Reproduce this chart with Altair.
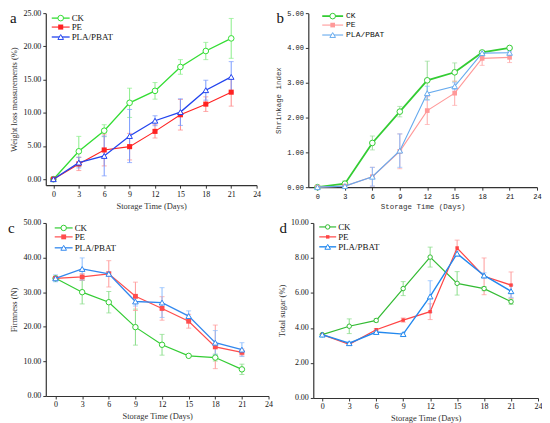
import altair as alt
import pandas as pd

days = [0, 3, 6, 9, 12, 15, 18, 21]
x_ticks = [0, 3, 6, 9, 12, 15, 18, 21, 24]
series_names = ["CK", "PE", "PLA/PBAT"]

# (a) Weight loss
wl_ck = [0, 4.2, 7.3, 11.5, 13.3, 16.9, 19.3, 21.2]
wl_ck_err = [0, 2.25, 0.9, 2.2, 1.25, 1.1, 1.3, 3.0]
wl_pe = [0, 2.3, 4.4, 4.9, 7.2, 9.7, 11.3, 13.1]
wl_pe_err = [0, 1.0, 2.4, 2.0, 1.0, 2.3, 1.1, 2.1]
wl_pla = [0, 2.5, 3.5, 6.5, 8.8, 10.1, 13.4, 15.4]
wl_pla_err = [0, 0.8, 3.0, 4.0, 0.75, 2.0, 1.5, 2.3]

# (b) Shrinkage index
sh_ck = [0, 0.1, 1.27, 2.17, 3.07, 3.3, 3.87, 4.0]
sh_ck_err = [0, 0.08, 0.2, 0.15, 0.55, 0.27, 0.05, 0.03]
sh_pe = [0, 0.03, 0.3, 1.03, 2.2, 2.7, 3.7, 3.73]
sh_pe_err = [0, 0, 0.27, 0.5, 0.4, 0.35, 0.2, 0.15]
sh_pla = [0, 0.03, 0.3, 1.05, 2.7, 2.9, 3.85, 3.86]
sh_pla_err = [0, 0, 0.27, 0.48, 0.2, 0.1, 0.08, 0.05]

# (c) Firmness
fi_ck = [34.0, 30.0, 27.1, 19.9, 14.8, 11.6, 11.1, 7.7]
fi_ck_err = [0.5, 3.4, 3.1, 5.2, 3.0, 0.3, 1.0, 1.5]
fi_pe = [34.0, 34.4, 35.3, 28.8, 25.3, 21.6, 14.2, 12.6]
fi_pe_err = [0.5, 1.0, 3.8, 4.1, 3.4, 2.0, 6.3, 1.0]
fi_pla = [34.0, 36.7, 35.3, 27.3, 27.0, 23.1, 15.4, 13.4]
fi_pla_err = [1.0, 3.2, 0.6, 1.3, 4.3, 1.5, 3.5, 2.0]

# (d) Total sugar
ts_ck = [3.62, 4.1, 4.43, 6.25, 8.05, 6.55, 6.25, 5.5]
ts_ck_err = [0, 0.42, 0.1, 0.4, 0.57, 0.67, 0.12, 0.15]
ts_pe = [3.62, 3.07, 3.9, 4.45, 4.93, 8.57, 6.95, 6.45]
ts_pe_err = [0, 0.05, 0.05, 0.12, 0.45, 0.45, 1.05, 0.75]
ts_pla = [3.62, 3.13, 3.77, 3.65, 5.8, 8.25, 7.0, 6.1]
ts_pla_err = [0, 0.08, 0.05, 0.07, 0.9, 0.15, 0.15, 0.35]

SERIF = "Liberation Serif"
MONO = "Liberation Mono"


def make_panel(label, ytitle, vals, errs, ydomain, yticks, xdomain, width, height,
               font, lsize, tsize, colors, errcolors, shapes, msizes, lwidths,
               legend_x, legend_y, label_xy):
    xs = alt.Scale(domain=xdomain, nice=False, zero=False)
    ys = alt.Scale(domain=ydomain, nice=False, zero=False)
    common = dict(grid=False, labelFont=font, titleFont=font, labelFontSize=lsize,
                  titleFontSize=tsize, titleFontWeight="normal", tickSize=3,
                  domainColor="#333333", tickColor="#333333", labelColor="#111111",
                  titleColor="#333333", labelPadding=2, domainWidth=1.2,
                  labelOverlap=False, labelFlush=False)
    xaxis = alt.Axis(values=x_ticks, format="d", title="Storage Time (Days)",
                     titlePadding=3, **common)
    yaxis = alt.Axis(values=yticks, format=".2f", title=ytitle, titlePadding=4, **common)
    layers = []
    for i, name in enumerate(series_names):
        df = pd.DataFrame({"day": days, "v": vals[i], "e": errs[i]})
        df["lo"] = df["v"] - df["e"]
        df["hi"] = df["v"] + df["e"]
        dfe = df[df["e"] > 0]
        base_e = alt.Chart(dfe)
        layers.append(base_e.mark_rule(color=errcolors[i], strokeWidth=1).encode(
            x=alt.X("day:Q", scale=xs, axis=xaxis),
            y=alt.Y("lo:Q", scale=ys, axis=yaxis), y2="hi:Q"))
        for f in ["lo", "hi"]:
            layers.append(base_e.mark_tick(color=errcolors[i], orient="horizontal",
                                           size=5, thickness=1).encode(
                x=alt.X("day:Q", scale=xs, axis=xaxis),
                y=alt.Y(f + ":Q", scale=ys, axis=yaxis)))
    for i, name in enumerate(series_names):
        df = pd.DataFrame({"day": days, "v": vals[i]})
        base = alt.Chart(df)
        layers.append(base.mark_line(color=colors[i], strokeWidth=lwidths[i]).encode(
            x=alt.X("day:Q", scale=xs, axis=xaxis), y=alt.Y("v:Q", scale=ys, axis=yaxis)))
        if shapes[i] == "square":
            pm = base.mark_point(shape="square", filled=True, color=colors[i],
                                 size=msizes[i], opacity=1)
        else:
            pm = base.mark_point(shape=shapes[i], filled=True, fill="white",
                                 stroke=colors[i], strokeWidth=1, size=msizes[i], opacity=1)
        layers.append(pm.encode(x=alt.X("day:Q", scale=xs, axis=xaxis),
                                y=alt.Y("v:Q", scale=ys, axis=yaxis)))
    # legend
    x0, x1, xt = legend_x
    for i, name in enumerate(series_names):
        ldf = pd.DataFrame({"name": [name]})
        lb = alt.Chart(ldf)
        yy = legend_y[i]
        layers.append(lb.mark_rule(color=colors[i], strokeWidth=lwidths[i]).encode(
            x=alt.value(x0), x2=alt.value(x1), y=alt.value(yy)))
        if shapes[i] == "square":
            lm = lb.mark_point(shape="square", filled=True, color=colors[i],
                               size=msizes[i], opacity=1)
        else:
            lm = lb.mark_point(shape=shapes[i], filled=True, fill="white",
                               stroke=colors[i], strokeWidth=1, size=msizes[i], opacity=1)
        layers.append(lm.encode(x=alt.value((x0 + x1) / 2), y=alt.value(yy)))
        layers.append(lb.mark_text(align="left", baseline="middle", font=font,
                                   fontSize=tsize + 0.5, color="#111111").encode(
            x=alt.value(xt), y=alt.value(yy), text="name:N"))
    pdf = pd.DataFrame({"t": [label]})
    layers.append(alt.Chart(pdf).mark_text(align="left", baseline="top", font=SERIF,
                                           fontSize=15, color="#111111").encode(
        x=alt.value(label_xy[0]), y=alt.value(label_xy[1]), text="t:N"))
    return alt.layer(*layers).properties(width=width, height=height)


pa = make_panel("a", "Weight loss measurements (%)",
                [wl_ck, wl_pe, wl_pla], [wl_ck_err, wl_pe_err, wl_pla_err],
                [-0.9, 25], [0, 5, 10, 15, 20, 25], [-0.9, 24], 212, 173,
                SERIF, 8, 8.5,
                ["#33dd33", "#ff2222", "#2244ee"], ["#88ee88", "#ff8888", "#7799ff"],
                ["circle", "square", "triangle-up"], [32, 26, 32], [1.3, 1.1, 1.3],
                (6, 24, 26), (5, 14, 24), (-36, -2))

pb = make_panel("b", "Shrinkage index",
                [sh_ck, sh_pe, sh_pla], [sh_ck_err, sh_pe_err, sh_pla_err],
                [0, 5], [0, 1, 2, 3, 4, 5], [-1, 24], 230, 175,
                MONO, 7, 7.5,
                ["#33cc33", "#ff9999", "#66aaee"], ["#99dd99", "#ffaaaa", "#88bbff"],
                ["circle", "square", "triangle-up"], [32, 22, 32], [1.8, 1.1, 1.1],
                (14, 35, 38), (3, 12, 22), (-32, -2))

pc = make_panel("c", "Firmness (N)",
                [fi_ck, fi_pe, fi_pla], [fi_ck_err, fi_pe_err, fi_pla_err],
                [0, 50], [0, 10, 20, 30, 40, 50], [-1.1, 24], 224, 174,
                SERIF, 8, 8.5,
                ["#33cc33", "#ff4d4d", "#3388ee"], ["#88dd88", "#ff9999", "#88bbff"],
                ["circle", "square", "triangle-up"], [30, 24, 32], [1.2, 1.2, 1.3],
                (9, 27, 29), (5, 14, 25), (-38, -2))

pd_ = make_panel("d", "Total sugar (%)",
                 [ts_ck, ts_pe, ts_pla], [ts_ck_err, ts_pe_err, ts_pla_err],
                 [0, 10], [0, 2, 4, 6, 8, 10], [-1, 24], 226, 176,
                 SERIF, 8, 8.5,
                 ["#33bb33", "#ff4444", "#2288ee"], ["#88dd88", "#ff9999", "#88bbff"],
                 ["circle", "square", "triangle-up"], [20, 12, 32], [1.2, 1.2, 1.4],
                 (6, 23, 25), (4, 14, 24), (-34, -2))

chart = alt.vconcat(
    alt.hconcat(pa, pb, spacing=14),
    alt.hconcat(pc, pd_, spacing=5),
    spacing=9,
).configure_view(stroke=None).configure_axis(
    labelOverlap=False, labelFlush=False
).properties(padding={"left": 0, "top": 0, "right": 0, "bottom": 0})

chart.save("out.html", embed_options={"renderer": "svg", "actions": False})
